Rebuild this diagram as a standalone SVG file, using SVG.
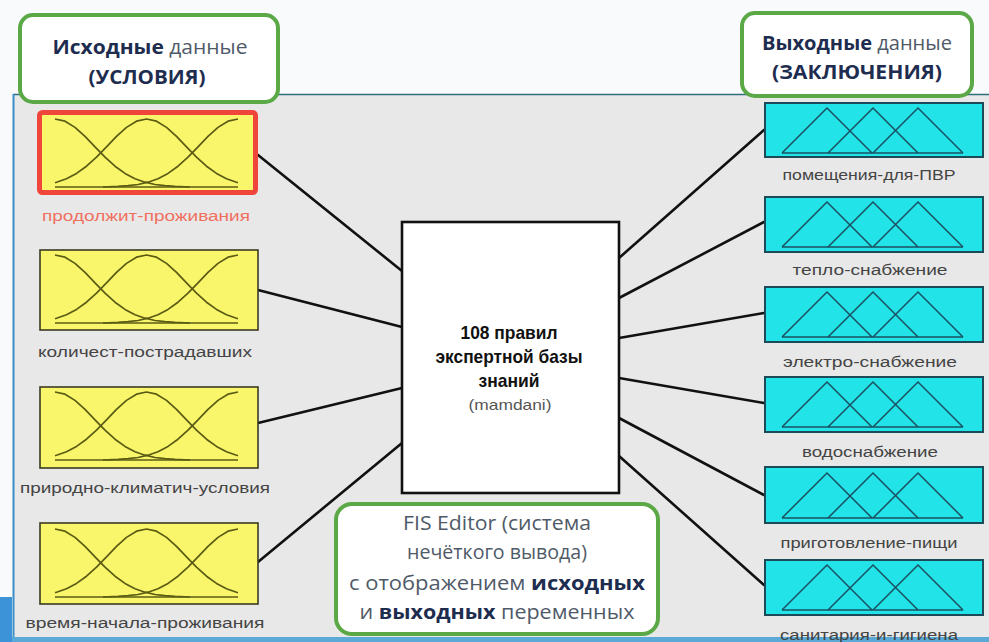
<svg xmlns="http://www.w3.org/2000/svg" width="989" height="642" viewBox="0 0 989 642">
<style>
.lbl{font-family:"Liberation Sans",Arial,sans-serif;font-size:14px;fill:#444;text-anchor:middle}
.inbox{fill:#f9f66c;stroke:#3a3a22;stroke-width:1.6}
.outbox{fill:#22e3e8;stroke:#1d4a58;stroke-width:2}
.mf path{fill:none;stroke:#5b5b14;stroke-width:1.7;stroke-linejoin:round}
.tri path{fill:none;stroke:#1a5062;stroke-width:1.5;stroke-linejoin:miter}
.conn line{stroke:#111;stroke-width:2.6;stroke-linecap:round}
.title{font-family:"Open Sans","Noto Sans",sans-serif;font-size:20px;text-anchor:middle;fill:#4f5a68}
.b{font-weight:bold;fill:#1e2d4f}
.gbox{fill:#fff;stroke:#5aa846;stroke-width:4}
.ctr{font-family:"Liberation Sans",Arial,sans-serif;font-size:19px;font-weight:bold;fill:#111;text-anchor:middle}
</style>
<defs>
<g id="mf" class="mf">
<path d="M0,0 L10,2.2 L20,8.4 L30,17.4 L40,27.8 L50,38.1 L60,47.2 L70,54.4 L80,59.7 L90,63.2 L100,65.5 L110,66.7 L120,67.4 L135,68"/>
<path d="M0,63.6 L1.5,63.2 L11.5,59.7 L21.5,54.4 L31.5,47.2 L41.5,38.1 L51.5,27.8 L61.5,17.4 L71.5,8.4 L81.5,2.2 L91.5,0 L101.5,2.2 L111.5,8.4 L121.5,17.4 L131.5,27.8 L141.5,38.1 L151.5,47.2 L161.5,54.4 L171.5,59.7 L181.5,63.2 L183,63.6"/>
<path d="M183,0 L173,2.2 L163,8.4 L153,17.4 L143,27.8 L133,38.1 L123,47.2 L113,54.4 L103,59.7 L93,63.2 L83,65.5 L73,66.7 L63,67.4 L48,68"/>
<path d="M0,68 H183"/>
</g>
<g id="tri" class="tri">
<path d="M0,45 L45,0 L90,45"/>
<path d="M46,45 L91,0 L136,45"/>
<path d="M91,45 L136,0 L181,45"/>
<path d="M0,45 H181"/>
</g>
</defs>

<rect x="0" y="0" width="989" height="642" fill="#f8fafc"/>
<g id="panel">
<rect x="13" y="94" width="976" height="543" fill="#e8e8e8"/>
<line x1="13" y1="94.5" x2="989" y2="94.5" stroke="#2f6d7e" stroke-width="1.6"/>
<line x1="13.5" y1="94" x2="13.5" y2="637" stroke="#3a8fc8" stroke-width="2"/>
<rect x="0" y="637" width="989" height="5" fill="#5aa9d6"/>
<rect x="0" y="597" width="12" height="45" fill="#3d93d8"/>
</g>

<g id="connectors" class="conn">
<line x1="258" y1="155" x2="402" y2="271"/>
<line x1="258" y1="290" x2="402" y2="327"/>
<line x1="258" y1="423" x2="402" y2="388"/>
<line x1="258" y1="562" x2="402" y2="443"/>
<line x1="619" y1="258" x2="764" y2="130"/>
<line x1="619" y1="298" x2="764" y2="222"/>
<line x1="619" y1="338" x2="764" y2="313"/>
<line x1="619" y1="378" x2="764" y2="403"/>
<line x1="619" y1="418" x2="764" y2="495"/>
<line x1="619" y1="456" x2="764" y2="585"/>
</g>

<g id="in1">
<rect x="39.5" y="112.5" width="216" height="80" rx="3" fill="#f9f66c" stroke="#f0453a" stroke-width="5"/>
<use href="#mf" transform="translate(55,119)"/>
<text class="lbl" x="146" y="221" textLength="208" lengthAdjust="spacingAndGlyphs" style="fill:#f07060">продолжит-проживания</text>
</g>
<g id="in2">
<rect class="inbox" x="40" y="250" width="218" height="80"/>
<use href="#mf" transform="translate(55,255)"/>
<text class="lbl" x="145" y="357" textLength="214" lengthAdjust="spacingAndGlyphs">количест-пострадавших</text>
</g>
<g id="in3">
<rect class="inbox" x="40" y="387" width="218" height="81"/>
<use href="#mf" transform="translate(55,392)"/>
<text class="lbl" x="145" y="493" textLength="250" lengthAdjust="spacingAndGlyphs">природно-климатич-условия</text>
</g>
<g id="in4">
<rect class="inbox" x="40" y="523" width="218" height="81"/>
<use href="#mf" transform="translate(55,529)"/>
<text class="lbl" x="145" y="628" textLength="239" lengthAdjust="spacingAndGlyphs">время-начала-проживания</text>
</g>

<g id="center">
<rect x="402" y="222" width="217" height="271" fill="#fff" stroke="#111" stroke-width="2.6"/>
<text class="ctr" x="509" y="339" textLength="97" lengthAdjust="spacingAndGlyphs">108 правил</text>
<text class="ctr" x="509" y="363" textLength="147" lengthAdjust="spacingAndGlyphs">экспертной базы</text>
<text class="ctr" x="509" y="387" textLength="61" lengthAdjust="spacingAndGlyphs">знаний</text>
<text x="510" y="410" font-family="Liberation Sans,Arial,sans-serif" font-size="15" fill="#555" text-anchor="middle" textLength="83" lengthAdjust="spacingAndGlyphs">(mamdani)</text>
</g>

<g id="out1">
<rect class="outbox" x="765" y="103" width="218" height="54"/>
<use href="#tri" transform="translate(782,108)"/>
<text class="lbl" x="869" y="180" textLength="173" lengthAdjust="spacingAndGlyphs">помещения-для-ПВР</text>
</g>
<g id="out2">
<rect class="outbox" x="765" y="197" width="218" height="55"/>
<use href="#tri" transform="translate(782,202)"/>
<text class="lbl" x="870" y="275" textLength="155" lengthAdjust="spacingAndGlyphs">тепло-снабжение</text>
</g>
<g id="out3">
<rect class="outbox" x="765" y="287" width="218" height="55"/>
<use href="#tri" transform="translate(782,292)"/>
<text class="lbl" x="870" y="367" textLength="174" lengthAdjust="spacingAndGlyphs">электро-снабжение</text>
</g>
<g id="out4">
<rect class="outbox" x="765" y="377" width="218" height="55"/>
<use href="#tri" transform="translate(782,382)"/>
<text class="lbl" x="870" y="457" textLength="136" lengthAdjust="spacingAndGlyphs">водоснабжение</text>
</g>
<g id="out5">
<rect class="outbox" x="765" y="467" width="218" height="56"/>
<use href="#tri" transform="translate(782,473)"/>
<text class="lbl" x="869" y="548" textLength="177" lengthAdjust="spacingAndGlyphs">приготовление-пищи</text>
</g>
<g id="out6">
<rect class="outbox" x="765" y="560" width="218" height="55"/>
<use href="#tri" transform="translate(782,565)"/>
<text class="lbl" x="869" y="640" textLength="178" lengthAdjust="spacingAndGlyphs">санитария-и-гигиена</text>
</g>

<g id="title-in">
<rect class="gbox" x="20" y="15" width="258" height="87" rx="13"/>
<text class="title" x="150" y="54" textLength="195" lengthAdjust="spacingAndGlyphs"><tspan class="b">Исходные</tspan> данные</text>
<text class="title b" x="147" y="84" textLength="117" lengthAdjust="spacingAndGlyphs">(УСЛОВИЯ)</text>
</g>
<g id="title-out">
<rect class="gbox" x="742" y="13" width="230" height="83" rx="13"/>
<text class="title" x="857" y="50" textLength="190" lengthAdjust="spacingAndGlyphs"><tspan class="b">Выходные</tspan> данные</text>
<text class="title b" x="857" y="79" textLength="170" lengthAdjust="spacingAndGlyphs">(ЗАКЛЮЧЕНИЯ)</text>
</g>

<g id="fis">
<rect class="gbox" x="336" y="504" width="322" height="130" rx="16"/>
<text class="title" x="497" y="530" textLength="188" lengthAdjust="spacingAndGlyphs">FIS Editor (система</text>
<text class="title" x="497" y="559" textLength="180" lengthAdjust="spacingAndGlyphs">нечёткого вывода)</text>
<text class="title" x="497" y="590" textLength="296" lengthAdjust="spacingAndGlyphs">с отображением <tspan class="b">исходных</tspan></text>
<text class="title" x="497" y="619" textLength="275" lengthAdjust="spacingAndGlyphs">и <tspan class="b">выходных</tspan> переменных</text>
</g>
</svg>
